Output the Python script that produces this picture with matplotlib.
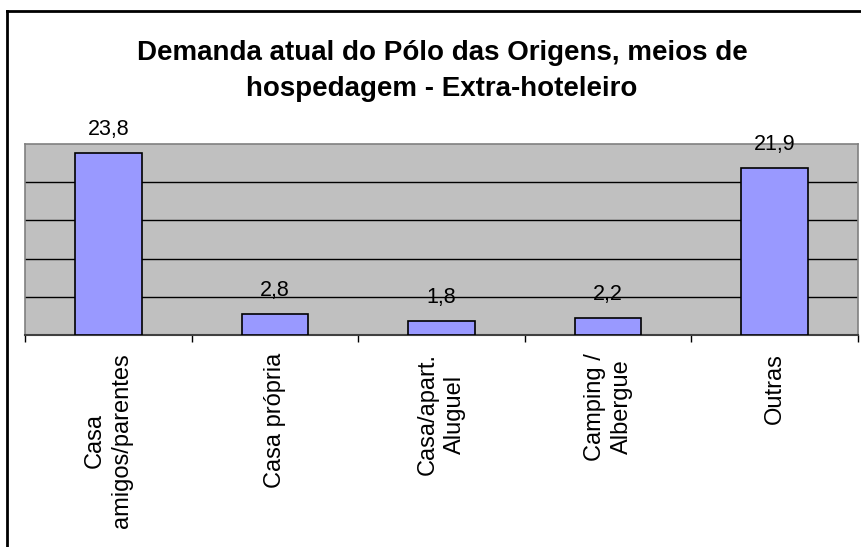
import matplotlib
matplotlib.use("Agg")
import matplotlib.pyplot as plt
from matplotlib.lines import Line2D
import numpy as np

categories = ["Casa\namigos/parentes", "Casa própria", "Casa/apart.\nAluguel", "Camping /\nAlbergue", "Outras"]
values = [23.8, 2.8, 1.8, 2.2, 21.9]
value_labels = ["23,8", "2,8", "1,8", "2,2", "21,9"]
title = "Demanda atual do Pólo das Origens, meios de\nhospedagem - Extra-hoteleiro"

plt.rcParams['font.family'] = ['Liberation Sans', 'DejaVu Sans']

W, H = 861, 547
fig = plt.figure(figsize=(W/100, H/100), dpi=100)
fig.patch.set_facecolor('white')

ax = fig.add_axes([25/W, 1-335/H, (858-25)/W, (335-144)/H])
ax.set_facecolor('#C0C0C0')
x = np.arange(len(categories))
ax.bar(x, values, width=0.4, color='#9999FF', edgecolor='black', linewidth=1.2, zorder=3)
ax.set_xlim(-0.5, len(categories)-0.5)
ax.set_ylim(0, 25)
ax.set_yticks([5, 10, 15, 20])
ax.yaxis.grid(True, color='black', linewidth=1.0, zorder=1)
ax.tick_params(axis='y', left=False, labelleft=False)
ax.set_xticks(x)
ax.set_xticklabels(categories, rotation=90, fontsize=17, ha='center', va='top',
                   multialignment='center', linespacing=1.3)
ax.tick_params(axis='x', which='major', length=0, pad=13)
ax.set_xticks(np.arange(len(categories)+1)-0.5, minor=True)
ax.tick_params(axis='x', which='minor', length=5, width=1, color='black', direction='out')
for s in ['left', 'right', 'top']:
    ax.spines[s].set_color('#808080')
    ax.spines[s].set_linewidth(1.2)
ax.spines['bottom'].set_color('#404040')
ax.spines['bottom'].set_linewidth(1.5)

for xi, v, lab in zip(x, values, value_labels):
    ax.annotate(lab, (xi, v), xytext=(0, 13), textcoords='offset points',
                ha='center', va='baseline', fontsize=15.5, zorder=5)

fig.text(442/W, 1-71/H, title, ha='center', va='center', fontsize=20,
         fontweight='bold', linespacing=1.5)

fig.add_artist(Line2D([7/W, 7/W], [0, 1-11/H], color='black', linewidth=2))
fig.add_artist(Line2D([7/W, 1], [1-11/H, 1-11/H], color='black', linewidth=2))

fig.savefig('out.png', dpi=100)
